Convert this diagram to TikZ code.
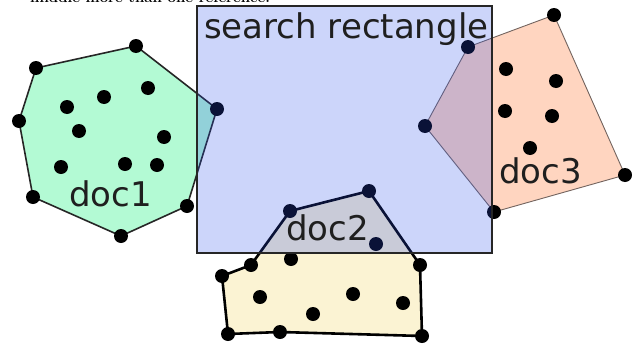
\documentclass[tikz,border=0pt]{standalone}
\usepackage{fontspec}
\newfontfamily\labelfont{DejaVu Sans}
\definecolor{docA}{RGB}{179,250,212}
\definecolor{docB}{RGB}{251,243,211}
\definecolor{docC}{RGB}{255,213,192}
\definecolor{docCedge}{RGB}{115,100,95}
\definecolor{searchblue}{RGB}{42,79,233}
\begin{document}
\begin{tikzpicture}[x=1pt,y=-1pt,
  dot/.style={circle,fill=black,inner sep=0pt,minimum size=14pt},
  lbl/.style={font=\labelfont\fontsize{34}{34}\selectfont,inner sep=0pt,anchor=base west,text=black!88},
  hull/.style={line join=round},
]
\clip (0,0) rectangle (632,343);

% caption line of the surrounding text, cut by the page edge
\node[font=\fontsize{15}{15}\selectfont\bfseries,anchor=base west,inner sep=0pt] (caption) at (30,2.5) {middle more than one reference.};

% ---- doc1 ----
\coordinate (a1) at (36,68);
\coordinate (a2) at (136,46);
\coordinate (a3) at (217,109);
\coordinate (a4) at (187,206);
\coordinate (a5) at (121,236);
\coordinate (a6) at (33,197);
\coordinate (a7) at (19,121);
\filldraw[hull,fill=docA,draw=black!85,line width=1.6pt]
  (a1) -- (a2) -- (a3) -- (a4) -- (a5) -- (a6) -- (a7) -- cycle;
\foreach \p in {a1,a2,a3,a4,a5,a6,a7} \node[dot] (d\p) at (\p) {};
\node[dot] (ai1) at (67,107) {};
\node[dot] (ai2) at (104,97) {};
\node[dot] (ai3) at (148,88) {};
\node[dot] (ai4) at (79,131) {};
\node[dot] (ai5) at (164,137) {};
\node[dot] (ai6) at (61,167) {};
\node[dot] (ai7) at (125,164) {};
\node[dot] (ai8) at (157,165) {};

% ---- doc3 ----
\coordinate (c1) at (554,15);
\coordinate (c2) at (625,175);
\coordinate (c3) at (494,212);
\coordinate (c4) at (425,126);
\coordinate (c5) at (468,47);
\filldraw[hull,fill=docC,draw=docCedge,line width=0.9pt]
  (c1) -- (c2) -- (c3) -- (c4) -- (c5) -- cycle;
\foreach \p in {c1,c2,c3,c4,c5} \node[dot] (d\p) at (\p) {};
\node[dot] (ci1) at (506,69) {};
\node[dot] (ci2) at (556,81) {};
\node[dot] (ci3) at (505,111) {};
\node[dot] (ci4) at (552,116) {};
\node[dot] (ci5) at (530,148) {};

% ---- doc2 ----
\coordinate (b1) at (290,211);
\coordinate (b2) at (369,191);
\coordinate (b3) at (420,265);
\coordinate (b4) at (422,336);
\coordinate (b5) at (280,332);
\coordinate (b6) at (228,334);
\coordinate (b7) at (222,276);
\coordinate (b8) at (251,265);
\filldraw[hull,fill=docB,draw=black,line width=2.6pt]
  (b1) -- (b2) -- (b3) -- (b4) -- (b5) -- (b6) -- (b7) -- (b8) -- cycle;
\foreach \p in {b1,b2,b3,b4,b5,b6,b7,b8} \node[dot] (d\p) at (\p) {};
\node[dot] (bi1) at (291,259) {};
\node[dot] (bi2) at (376,244) {};
\node[dot] (bi3) at (260,297) {};
\node[dot] (bi4) at (353,294) {};
\node[dot] (bi5) at (313,314) {};
\node[dot] (bi6) at (403,303) {};

% ---- translucent search rectangle on top ----
\filldraw[fill=searchblue,fill opacity=0.24,draw=black!85,line width=1.3pt]
  (197,6) rectangle (492,253);

% ---- labels ----
\node[lbl] (search) at (204,38) {search rectangle};
\node[lbl] (doc1) at (69,206) {doc1};
\node[lbl] (doc2) at (286,240) {doc2};
\node[lbl] (doc3) at (499,183) {doc3};
\end{tikzpicture}
\end{document}
